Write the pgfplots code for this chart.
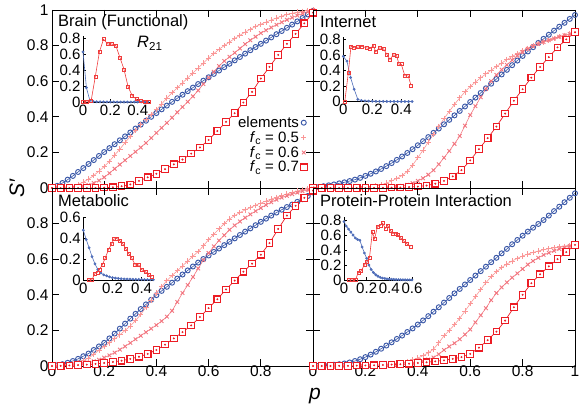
\documentclass[border=0pt]{standalone}
\usepackage{pgfplots}
\pgfplotsset{compat=1.18}
\usepackage{pgfplotstable}
\usepackage{fontspec}
\setmainfont{Liberation Sans}
\definecolor{cblue}{RGB}{58,88,168}
\definecolor{cpinkA}{RGB}{250,150,150}
\definecolor{cpinkB}{RGB}{242,118,128}
\definecolor{cred}{RGB}{236,28,36}
\definecolor{iblue}{RGB}{80,110,185}
\definecolor{ired}{RGB}{240,60,60}

\pgfplotstableread{
p b a c
0 0 0 0
0.02 0.012 0 0
0.04 0.028 0.002 0
0.06 0.047 0.005 0
0.08 0.068 0.01 0.002
0.10 0.09 0.02 0.005
0.12 0.112 0.033 0.01
0.14 0.135 0.05 0.017
0.16 0.157 0.07 0.028
0.18 0.18 0.095 0.042
0.20 0.202 0.12 0.06
0.22 0.224 0.15 0.083
0.24 0.246 0.185 0.108
0.26 0.268 0.218 0.132
0.28 0.29 0.255 0.156
0.30 0.312 0.29 0.18
0.32 0.334 0.322 0.204
0.34 0.356 0.355 0.228
0.36 0.378 0.385 0.253
0.38 0.40 0.413 0.281
0.40 0.421 0.44 0.31
0.42 0.442 0.472 0.338
0.44 0.463 0.505 0.366
0.46 0.484 0.535 0.395
0.48 0.504 0.563 0.425
0.50 0.524 0.59 0.455
0.52 0.544 0.618 0.485
0.54 0.564 0.646 0.515
0.56 0.584 0.674 0.548
0.58 0.603 0.702 0.584
0.60 0.622 0.73 0.62
0.62 0.641 0.755 0.653
0.64 0.66 0.779 0.685
0.66 0.679 0.80 0.713
0.68 0.698 0.82 0.737
0.70 0.717 0.84 0.76
0.72 0.736 0.858 0.784
0.74 0.755 0.876 0.808
0.76 0.774 0.892 0.83
0.78 0.792 0.907 0.85
0.80 0.81 0.92 0.87
0.82 0.828 0.932 0.886
0.84 0.846 0.944 0.902
0.86 0.864 0.955 0.917
0.88 0.882 0.965 0.931
0.90 0.90 0.975 0.945
0.92 0.918 0.982 0.957
0.94 0.936 0.988 0.969
0.96 0.955 0.993 0.98
0.98 0.975 0.997 0.99
1.00 0.995 1.0 1.0
}\TLmain
\pgfplotstableread{
p r
0 0
0.0333 0
0.0667 0
0.1 0
0.1333 0
0.1667 0.001
0.2 0.002
0.2333 0.004
0.2667 0.01
0.3 0.02
0.3333 0.04
0.3667 0.06
0.4 0.08
0.4333 0.106
0.4667 0.133
0.5 0.16
0.5333 0.193
0.5667 0.228
0.6 0.27
0.6333 0.32
0.6667 0.372
0.7 0.42
0.7333 0.48
0.7667 0.54
0.8 0.615
0.8333 0.68
0.8667 0.748
0.9 0.81
0.9333 0.866
0.9667 0.925
1 0.985
}\TLred

\pgfplotstableread{
p b a c
0 0 0 0
0.02 0.005 0 0
0.04 0.01 0 0
0.06 0.015 0 0
0.08 0.02 0 0
0.10 0.026 0.001 0
0.12 0.032 0.001 0
0.14 0.039 0.002 0
0.16 0.047 0.003 0
0.18 0.057 0.004 0
0.20 0.068 0.005 0
0.22 0.08 0.008 0
0.24 0.093 0.012 0
0.26 0.107 0.018 0.001
0.28 0.123 0.027 0.003
0.30 0.14 0.04 0.005
0.32 0.158 0.054 0.008
0.34 0.177 0.07 0.012
0.36 0.197 0.093 0.018
0.38 0.218 0.128 0.027
0.40 0.24 0.17 0.04
0.42 0.263 0.213 0.055
0.44 0.286 0.258 0.075
0.46 0.31 0.302 0.1
0.48 0.334 0.346 0.133
0.50 0.358 0.39 0.17
0.52 0.383 0.43 0.208
0.54 0.408 0.47 0.248
0.56 0.433 0.506 0.292
0.58 0.458 0.54 0.35
0.60 0.483 0.57 0.41
0.62 0.508 0.595 0.46
0.64 0.534 0.619 0.51
0.66 0.56 0.641 0.557
0.68 0.586 0.662 0.6
0.70 0.612 0.682 0.635
0.72 0.638 0.702 0.665
0.74 0.664 0.721 0.692
0.76 0.69 0.739 0.718
0.78 0.716 0.755 0.743
0.80 0.742 0.77 0.765
0.82 0.767 0.785 0.782
0.84 0.791 0.799 0.797
0.86 0.815 0.811 0.809
0.88 0.838 0.821 0.82
0.90 0.861 0.83 0.83
0.92 0.884 0.84 0.84
0.94 0.906 0.85 0.85
0.96 0.928 0.858 0.858
0.98 0.95 0.865 0.865
1.00 0.972 0.87 0.87
}\TRmain
\pgfplotstableread{
p r
0 0
0.0333 0
0.0667 0
0.1 0
0.1333 0
0.1667 0
0.2 0
0.2333 0.001
0.2667 0.001
0.3 0.002
0.3333 0.003
0.3667 0.005
0.4 0.008
0.4333 0.014
0.4667 0.024
0.5 0.04
0.5333 0.065
0.5667 0.1
0.6 0.155
0.6333 0.218
0.6667 0.28
0.7 0.345
0.7333 0.418
0.7667 0.49
0.8 0.555
0.8333 0.62
0.8667 0.68
0.9 0.735
0.9333 0.79
0.9667 0.835
1 0.875
}\TRred

\pgfplotstableread{
p b a c
0 0 0 0
0.02 0.004 0.001 0
0.04 0.01 0.003 0.001
0.06 0.018 0.007 0.002
0.08 0.028 0.013 0.004
0.10 0.04 0.02 0.008
0.12 0.055 0.03 0.013
0.14 0.07 0.045 0.019
0.16 0.09 0.065 0.026
0.18 0.11 0.088 0.035
0.20 0.13 0.11 0.047
0.22 0.155 0.13 0.06
0.24 0.182 0.152 0.075
0.26 0.21 0.175 0.092
0.28 0.238 0.2 0.11
0.30 0.266 0.225 0.13
0.32 0.293 0.255 0.15
0.34 0.32 0.29 0.17
0.36 0.346 0.33 0.19
0.38 0.372 0.37 0.21
0.40 0.398 0.41 0.23
0.42 0.422 0.445 0.252
0.44 0.445 0.48 0.277
0.46 0.468 0.508 0.31
0.48 0.491 0.535 0.36
0.50 0.514 0.562 0.41
0.52 0.537 0.59 0.455
0.54 0.559 0.617 0.5
0.56 0.581 0.643 0.548
0.58 0.601 0.675 0.595
0.60 0.621 0.71 0.635
0.62 0.641 0.74 0.672
0.64 0.66 0.77 0.705
0.66 0.679 0.8 0.735
0.68 0.698 0.826 0.765
0.70 0.717 0.845 0.79
0.72 0.736 0.862 0.812
0.74 0.755 0.877 0.833
0.76 0.773 0.89 0.852
0.78 0.791 0.903 0.87
0.80 0.81 0.915 0.888
0.82 0.828 0.927 0.905
0.84 0.845 0.938 0.92
0.86 0.862 0.948 0.934
0.88 0.878 0.957 0.946
0.90 0.893 0.966 0.956
0.92 0.907 0.975 0.965
0.94 0.922 0.983 0.974
0.96 0.937 0.99 0.982
0.98 0.955 0.995 0.99
1.00 0.975 0.998 0.996
}\BLmain
\pgfplotstableread{
p r
0 0
0.0333 0.001
0.0667 0.003
0.1 0.005
0.1333 0.008
0.1667 0.012
0.2 0.017
0.2333 0.023
0.2667 0.03
0.3 0.04
0.3333 0.052
0.3667 0.068
0.4 0.09
0.4333 0.12
0.4667 0.155
0.5 0.19
0.5333 0.228
0.5667 0.275
0.6 0.325
0.6333 0.375
0.6667 0.43
0.7 0.48
0.7333 0.53
0.7667 0.575
0.8 0.625
0.8333 0.69
0.8667 0.77
0.9 0.845
0.9333 0.9
0.9667 0.945
1 0.985
}\BLred

\pgfplotstableread{
p b a c
0 0 0 0
0.02 0.001 0 0
0.04 0.002 0 0
0.06 0.004 0 0
0.08 0.007 0 0
0.10 0.01 0 0
0.12 0.014 0.001 0
0.14 0.02 0.001 0
0.16 0.028 0.001 0
0.18 0.038 0.002 0
0.20 0.05 0.002 0
0.22 0.064 0.003 0.001
0.24 0.08 0.004 0.001
0.26 0.097 0.005 0.002
0.28 0.115 0.007 0.003
0.30 0.133 0.01 0.004
0.32 0.152 0.013 0.006
0.34 0.171 0.018 0.008
0.36 0.191 0.025 0.011
0.38 0.211 0.034 0.015
0.40 0.233 0.045 0.02
0.42 0.256 0.058 0.027
0.44 0.28 0.074 0.036
0.46 0.305 0.095 0.048
0.48 0.33 0.13 0.066
0.50 0.356 0.17 0.09
0.52 0.382 0.2 0.11
0.54 0.408 0.232 0.128
0.56 0.433 0.268 0.15
0.58 0.458 0.308 0.177
0.60 0.483 0.35 0.205
0.62 0.508 0.39 0.245
0.64 0.533 0.43 0.285
0.66 0.558 0.468 0.325
0.68 0.583 0.502 0.37
0.70 0.608 0.53 0.41
0.72 0.633 0.553 0.442
0.74 0.658 0.573 0.47
0.76 0.684 0.59 0.496
0.78 0.708 0.605 0.52
0.80 0.732 0.618 0.545
0.82 0.755 0.629 0.57
0.84 0.777 0.638 0.59
0.86 0.798 0.646 0.608
0.88 0.82 0.653 0.624
0.90 0.845 0.659 0.636
0.92 0.87 0.664 0.647
0.94 0.895 0.669 0.657
0.96 0.92 0.673 0.666
0.98 0.945 0.677 0.674
1.00 0.97 0.68 0.68
}\BRmain
\pgfplotstableread{
p r
0 0
0.0333 0
0.0667 0
0.1 0.001
0.1333 0.001
0.1667 0.002
0.2 0.003
0.2333 0.004
0.2667 0.006
0.3 0.008
0.3333 0.01
0.3667 0.013
0.4 0.017
0.4333 0.021
0.4667 0.026
0.5 0.032
0.5333 0.04
0.5667 0.05
0.6 0.068
0.6333 0.103
0.6667 0.145
0.7 0.193
0.7333 0.255
0.7667 0.33
0.8 0.4
0.8333 0.465
0.8667 0.515
0.9 0.56
0.9333 0.6
0.9667 0.64
1 0.68
}\BRred

\pgfplotsset{
  mainax/.style={
    scale only axis, height=178pt,
    xmin=0, xmax=1, ymin=0, ymax=1,
    xtick={0,0.2,0.4,0.6,0.8,1}, ytick={0,0.2,0.4,0.6,0.8,1},
    tick align=inside, major tick length=7pt,
    axis line style={line width=0.8pt},
    every tick/.style={black, line width=0.7pt},
    tick label style={font=\fontsize{15.5}{17}\selectfont},
    xticklabel style={yshift=4pt},
    /pgf/number format/assume math mode=true,
    clip=false,
  },
  sB/.style={color=cblue, line width=0.6pt, mark=o, mark size=2.5pt, mark options={line width=0.95pt, draw=cblue}},
  sA/.style={color=cpinkA, line width=0.6pt, mark=+, mark size=2.7pt, mark options={line width=0.9pt, draw=cpinkA}},
  sC/.style={color=cpinkB, line width=0.6pt, mark=x, mark size=2.6pt, mark options={line width=0.9pt, draw=cpinkB}},
  sR/.style={color=cred, line width=0.7pt, mark=square*, mark size=3.3pt, mark options={line width=1.1pt, draw=cred, fill=white}},
  sRd/.style={color=cred, only marks, mark=*, mark size=0.75pt, mark options={draw=cred, fill=cred}, forget plot},
  inax/.style={
    scale only axis, xmin=0, ymin=0,
    axis x line=bottom, axis y line=left,
    axis line style={-, line width=0.6pt},
    tick align=inside, major tick length=3pt,
    every tick/.style={black, line width=0.5pt},
    tick label style={font=\fontsize{15}{16}\selectfont},
    xticklabel style={yshift=1pt},
    yticklabel style={xshift=1pt},
    /pgf/number format/assume math mode=true,
    clip=false,
  },
  iB/.style={color=iblue, line width=0.6pt, mark=*, mark size=1.1pt},
  iR/.style={color=ired, line width=0.6pt, mark=square, mark size=1.5pt, mark options={line width=0.5pt, draw=ired}},
}
\newcommand{\ttl}{\fontsize{16.5}{18}\selectfont}

\begin{document}
\begin{tikzpicture}
\useasboundingbox (0,0) rectangle (581pt,410pt);

% ---------- top left: Brain
\begin{axis}[mainax, width=261pt, at={(52pt,222pt)}, anchor=south west,
  xticklabels={}, yticklabels={0,0.2,0.4,0.6,0.8,1},
  legend style={at={(rel axis cs:0.978,0.072)}, anchor=south east, draw=none, fill=none,
     font=\fontsize{15}{16}\selectfont, inner sep=0pt, row sep=-0.5pt,
     nodes={inner sep=1.5pt}},
  legend plot pos=right, legend cell align=right,
  legend image code/.code={\draw[#1,only marks] plot coordinates {(0.25cm,0cm)};},
  ]
\addplot[sB] table[x=p,y=b] {\TLmain};
\addlegendentry{elements}
\addplot[sA] table[x=p,y=a] {\TLmain};
\addlegendentry{\textit{f}\textsubscript{c} = 0.5}
\addplot[sC] table[x=p,y=c] {\TLmain};
\addlegendentry{\textit{f}\textsubscript{c} = 0.6}
\addplot[sR] table[x=p,y=r] {\TLred};
\addlegendentry{\textit{f}\textsubscript{c} = 0.7}
\addplot[sRd] table[x=p,y=r] {\TLred};
\end{axis}

% ---------- top right: Internet
\begin{axis}[mainax, width=262pt, at={(313pt,222pt)}, anchor=south west,
  xticklabels={}, yticklabels={}]
\addplot[sB] table[x=p,y=b] {\TRmain};
\addplot[sA] table[x=p,y=a] {\TRmain};
\addplot[sC] table[x=p,y=c] {\TRmain};
\addplot[sR] table[x=p,y=r] {\TRred};
\addplot[sRd] table[x=p,y=r] {\TRred};
\end{axis}

% ---------- bottom left: Metabolic
\begin{axis}[mainax, width=261pt, at={(52pt,44pt)}, anchor=south west,
  xtick={0,0.2,0.4,0.6,0.8}, xticklabels={0,0.2,0.4,0.6,0.8},
  extra x ticks={1}, extra x tick labels={},
  ytick={0,0.2,0.4,0.6,0.8}, yticklabels={0,0.2,0.4,0.6,0.8},
  extra y ticks={1}, extra y tick labels={}]
\addplot[sB] table[x=p,y=b] {\BLmain};
\addplot[sA] table[x=p,y=a] {\BLmain};
\addplot[sC] table[x=p,y=c] {\BLmain};
\addplot[sR] table[x=p,y=r] {\BLred};
\addplot[sRd] table[x=p,y=r] {\BLred};
\end{axis}

% ---------- bottom right: PPI
\begin{axis}[mainax, width=262pt, at={(313pt,44pt)}, anchor=south west,
  xticklabels={0,0.2,0.4,0.6,0.8,1}, yticklabels={}]
\addplot[sB] table[x=p,y=b] {\BRmain};
\addplot[sA] table[x=p,y=a] {\BRmain};
\addplot[sC] table[x=p,y=c] {\BRmain};
\addplot[sR] table[x=p,y=r] {\BRred};
\addplot[sRd] table[x=p,y=r] {\BRred};
\end{axis}

% ---------- insets
\begin{axis}[inax, width=67pt, height=66pt, at={(83pt,308pt)}, anchor=south west,
  xmax=0.49, ymax=0.83, xtick={0,0.2,0.4}, ytick={0,0.2,0.4,0.6,0.8}]
\addplot[iB] coordinates {(0,0.63)(0.025,0.18)(0.05,0.02)(0.075,0.006)(0.1,0.003)(0.125,0.002)(0.15,0.002)(0.175,0.001)(0.2,0.001)(0.225,0.001)(0.25,0)(0.275,0)(0.3,0)(0.325,0)(0.35,0)(0.375,0)(0.4,0)(0.425,0)(0.45,0)(0.475,0)};
\addplot[iR] coordinates {(0,0)(0.03,0)(0.06,0.02)(0.09,0.32)(0.12,0.63)(0.15,0.79)(0.18,0.73)(0.21,0.73)(0.24,0.71)(0.27,0.56)(0.3,0.41)(0.33,0.19)(0.36,0.08)(0.39,0.035)(0.42,0.01)(0.45,0.005)(0.48,0.003)};
\end{axis}

\begin{axis}[inax, width=69pt, height=65pt, at={(343.3pt,308.3pt)}, anchor=south west,
  xmax=0.476, ymax=0.833, xtick={0,0.2,0.4}, ytick={0,0.2,0.4,0.6,0.8}]
\addplot[iB] coordinates {(0,0.58)(0.025,0.52)(0.05,0.31)(0.075,0.16)(0.1,0.03)(0.125,0.015)(0.15,0.01)(0.175,0.008)(0.2,0.006)(0.225,0.005)(0.25,0.004)(0.275,0.004)(0.3,0.003)(0.325,0.003)(0.35,0.003)(0.375,0.002)(0.4,0.002)(0.425,0.002)(0.45,0.002)(0.475,0.002)};
\addplot[iR] coordinates {(0.01,0)(0.035,0.375)(0.053,0.71)(0.074,0.69)(0.103,0.7)(0.13,0.71)(0.16,0.69)(0.185,0.68)(0.207,0.72)(0.223,0.64)(0.248,0.69)(0.276,0.68)(0.303,0.6)(0.322,0.54)(0.345,0.6)(0.368,0.59)(0.384,0.48)(0.4,0.48)(0.425,0.33)(0.448,0.33)(0.467,0.21)};
\end{axis}

\begin{axis}[inax, width=70pt, height=63.3pt, at={(83.3pt,130pt)}, anchor=south west,
  xmax=0.48, ymax=0.61, xtick={0,0.2,0.4}, ytick={0,0.2,0.4,0.6}]
\addplot[iB] coordinates {(0,0.48)(0.02,0.39)(0.04,0.31)(0.06,0.225)(0.08,0.155)(0.1,0.1)(0.12,0.068)(0.14,0.05)(0.16,0.04)(0.18,0.03)(0.2,0.022)(0.22,0.018)(0.24,0.015)(0.26,0.012)(0.28,0.01)(0.3,0.009)(0.32,0.008)(0.34,0.007)(0.36,0.006)(0.38,0.005)(0.4,0.005)(0.42,0.004)(0.44,0.004)(0.46,0.003)(0.48,0.003)};
\addplot[iR] coordinates {(0.035,0)(0.058,0)(0.08,0.064)(0.097,0.074)(0.11,0.1)(0.13,0.145)(0.15,0.21)(0.172,0.29)(0.195,0.35)(0.21,0.395)(0.23,0.4)(0.25,0.38)(0.27,0.35)(0.29,0.305)(0.31,0.257)(0.333,0.21)(0.356,0.145)(0.38,0.145)(0.4,0.1)(0.425,0.08)(0.448,0.048)(0.467,0.032)};
\end{axis}

\begin{axis}[inax, width=68pt, height=63.3pt, at={(344pt,130pt)}, anchor=south west,
  xmax=0.6, ymax=0.845, xtick={0,0.2,0.4,0.6}, ytick={0,0.2,0.4,0.6,0.8}]
\addplot[iB] coordinates {(0,0.78)(0.02,0.72)(0.04,0.68)(0.06,0.64)(0.08,0.6)(0.1,0.56)(0.12,0.54)(0.14,0.53)(0.16,0.44)(0.18,0.36)(0.2,0.29)(0.22,0.2)(0.24,0.14)(0.26,0.1)(0.28,0.07)(0.3,0.05)(0.32,0.035)(0.34,0.025)(0.36,0.02)(0.38,0.015)(0.4,0.012)(0.42,0.01)(0.44,0.008)(0.46,0.006)(0.48,0.005)(0.5,0.004)(0.52,0.003)(0.54,0.003)(0.56,0.002)(0.58,0.002)(0.6,0.001)};
\addplot[iR] coordinates {(0.04,0)(0.07,0)(0.1,0)(0.127,0.1)(0.15,0.12)(0.18,0.2)(0.2,0.24)(0.225,0.3)(0.25,0.64)(0.27,0.55)(0.295,0.71)(0.32,0.73)(0.34,0.76)(0.365,0.69)(0.385,0.73)(0.41,0.66)(0.43,0.62)(0.455,0.62)(0.476,0.6)(0.5,0.56)(0.527,0.52)(0.55,0.49)(0.585,0.44)};
\end{axis}

% ---------- texts
\node[anchor=base west, inner sep=0pt, font=\ttl] at (58pt,383pt) {Brain (Functional)};
\node[anchor=base west, inner sep=0pt, font=\ttl] at (320pt,382pt) {Internet};
\node[anchor=base west, inner sep=0pt, font=\ttl] at (58pt,203pt) {Metabolic};
\node[anchor=base west, inner sep=0pt, font=\ttl] at (320pt,203pt) {Protein-Protein Interaction};
\node[anchor=base west, inner sep=0pt, font=\ttl] at (137pt,362pt) {\textit{R}\textsubscript{21}};
\node[rotate=90, inner sep=0pt, font=\fontsize{21}{22}\selectfont] at (17pt,222pt) {\textit{S′}};
\node[anchor=base, inner sep=0pt, font=\fontsize{21}{22}\selectfont] at (315pt,11pt) {\textit{p}};
\end{tikzpicture}
\end{document}
